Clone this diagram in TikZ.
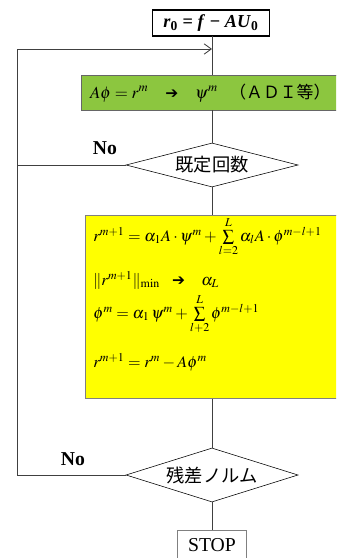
\documentclass[tikz,border=0pt]{standalone}
\usepackage{amsmath,amssymb}
\usepackage{mathptmx}
\usepackage{fontspec}
\setmainfont{Liberation Serif}
\newfontfamily\jpfont{Noto Sans CJK JP}
\newfontfamily\arrowfont{DejaVu Sans}
\usepackage{xcolor}
\usetikzlibrary{arrows.meta,shapes.geometric}
\definecolor{adigreen}{RGB}{140,198,63}
\definecolor{normyellow}{RGB}{255,255,0}
\newcommand{\thickarrow}{{\arrowfont\bfseries\fontsize{11}{13}\selectfont ➔}}

\begin{document}
\begin{tikzpicture}[
    x=0.025cm, y=-0.025cm,
    box/.style={draw, rectangle, inner sep=0pt},
    decision/.style={diamond, draw, fill=white, aspect=3.9, inner sep=0pt, minimum width=4.3cm},
    eq/.style={anchor=base west, inner sep=0pt, font=\fontsize{11.5}{14}\selectfont},
    line/.style={draw=black!75, line width=0.6pt},
    arr/.style={line, -{Straight Barb[length=1.8mm, width=2.6mm]}}
]
\clip (0,0) rectangle (336,558);
\useasboundingbox (0,0) rectangle (336,558);

% boxes
\node[box, line width=0.9pt, minimum width=2.925cm, minimum height=0.65cm, font=\fontsize{13}{15}\selectfont\bfseries] (init) at (211,23) {\textit{r}\textsubscript{0} = \textit{f} − \textit{AU}\textsubscript{0}};
\node[box, draw=black!60, fill=adigreen, anchor=north west, minimum height=0.875cm, text width=6.4cm, inner xsep=0.22cm, align=left, font=\large] (solve) at (81,75) {$A\phi = r^m$\ \ \ \thickarrow\ \ \ $\psi^m$\ \ {\jpfont （ＡＤＩ等）}};
\node[decision, minimum height=1.1cm, font=\fontsize{13}{15}\selectfont\jpfont] (count) at (212,165) {既定回数};
\node[box, draw=black!50, fill=normyellow, anchor=north west, minimum width=6.6cm, minimum height=4.575cm] (update) at (85,215) {};
\node[decision, minimum height=1.35cm, font=\fontsize{13}{15}\selectfont\jpfont] (norm) at (212,475) {残差ノルム};
\node[box, draw=black!50, minimum width=1.725cm, minimum height=0.75cm, font=\fontsize{14}{16}\selectfont] (stop) at (212,545) {STOP};

% contents of the yellow box
\node[eq] (eqr) at (93,241) {$r^{m+1} = \alpha_1 A\cdot\psi^m + \sum\limits_{l=2}^{L}\alpha_l A\cdot\phi^{m-l+1}$};
\node[eq] (eqmin) at (93,285) {$\|r^{m+1}\|_{\mathrm{min}}$\ \ \ \thickarrow\ \ \ \ $\alpha_L$};
\node[eq] (eqphi) at (93,318) {$\phi^m = \alpha_1\,\psi^m + \sum\limits_{l+2}^{L}\phi^{m-l+1}$};
\node[eq] (eqres) at (93,367) {$r^{m+1} = r^m - A\phi^m$};

% labels
\node[font=\fontsize{14}{16}\selectfont\bfseries] (no1) at (105,148) {No};
\node[font=\fontsize{14}{16}\selectfont\bfseries] (no2) at (73,459) {No};

% flow
\coordinate (join) at (212,49);
\coordinate (loop) at (17,49);
\draw[line] (212,36) -- (212,75);
\draw[line] (212,110) -- (count.north);
\draw[line] (count.south) -- (count.south |- update.north);
\draw[line] (count.south |- update.south) -- (norm.north);
\draw[line] (norm.south) -- (stop.north);
\draw[arr] (norm.west) -| (loop) -- (join);
\draw[line] (count.west) -- (count.west -| loop);
\end{tikzpicture}
\end{document}
